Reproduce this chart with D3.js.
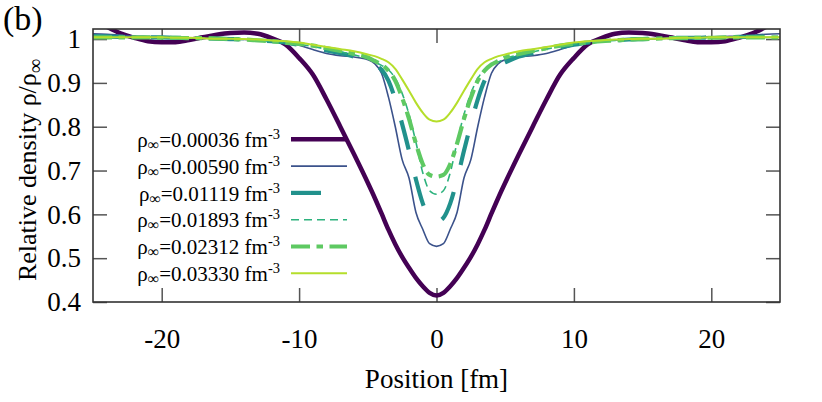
<!DOCTYPE html>
<html>
<head>
<meta charset="utf-8">
<script src="https://cdn.jsdelivr.net/npm/d3@7"></script>
<style>
  html, body { margin: 0; padding: 0; background: #fff; }
  svg { display: block; }
  svg text { font-family: "Liberation Serif", "Times New Roman", Times, Tinos, "DejaVu Serif", "Noto Serif", serif !important; }
</style>
</head>
<body>
<svg id="chart" width="822" height="402"></svg>
<script>
// ---------- data ----------
const positions = [-25,-24,-23,-22,-21,-20,-19,-18,-17,-16,-15,-14,-13,-12,-11,-10,-9,-8,-7,-6,-5,-4.5,-4,-3.5,-3,-2.5,-2,-1.5,-1,-0.5,0,0.5,1,1.5,2,2.5,3,3.5,4,4.5,5,6,7,8,9,10,11,12,13,14,15,16,17,18,19,20,21,22,23,24,25];

const rho00036 = [1.045,1.028,1.013,1.003,0.995,0.9925,0.993,0.998,1.004,1.010,1.014,1.015,1.012,1.002,0.988,0.957,0.919,0.862,0.800,0.737,0.672,0.638,0.602,0.565,0.532,0.503,0.478,0.455,0.436,0.421,0.415,0.421,0.436,0.455,0.478,0.503,0.532,0.565,0.602,0.638,0.672,0.737,0.800,0.862,0.919,0.957,0.988,1.002,1.012,1.015,1.014,1.010,1.004,0.998,0.993,0.9925,0.995,1.003,1.013,1.028,1.045];

const rho00590 = [1.012,1.011,1.009,1.007,1.006,1.005,1.004,1.003,1.002,1.001,1.000,0.999,0.998,0.996,0.993,0.986,0.976,0.967,0.962,0.959,0.953,0.944,0.922,0.868,0.800,0.725,0.683,0.605,0.566,0.533,0.527,0.533,0.566,0.605,0.683,0.725,0.800,0.868,0.922,0.944,0.953,0.959,0.962,0.967,0.976,0.986,0.993,0.996,0.998,0.999,1.000,1.001,1.002,1.003,1.004,1.005,1.006,1.007,1.009,1.011,1.012];

const rho01119 = [1.007,1.006,1.005,1.005,1.004,1.004,1.003,1.003,1.002,1.001,1.000,0.999,0.997,0.995,0.992,0.987,0.981,0.974,0.968,0.960,0.947,0.940,0.930,0.905,0.862,0.806,0.745,0.680,0.625,0.592,0.583,0.592,0.625,0.680,0.745,0.806,0.862,0.905,0.930,0.940,0.947,0.960,0.968,0.974,0.981,0.987,0.992,0.995,0.997,0.999,1.000,1.001,1.002,1.003,1.003,1.004,1.004,1.005,1.005,1.006,1.007];

const rho01893 = [1.004,1.004,1.004,1.004,1.004,1.003,1.003,1.002,1.002,1.001,1.000,0.999,0.997,0.995,0.992,0.988,0.983,0.977,0.971,0.964,0.955,0.948,0.940,0.930,0.910,0.876,0.828,0.765,0.695,0.654,0.646,0.654,0.695,0.765,0.828,0.876,0.910,0.930,0.940,0.948,0.955,0.964,0.971,0.977,0.983,0.988,0.992,0.995,0.997,0.999,1.000,1.001,1.002,1.002,1.003,1.003,1.004,1.004,1.004,1.004,1.004];

const rho02312 = [1.004,1.004,1.004,1.004,1.004,1.003,1.003,1.002,1.002,1.001,1.000,0.999,0.997,0.995,0.992,0.989,0.985,0.979,0.973,0.966,0.958,0.950,0.942,0.928,0.905,0.866,0.818,0.762,0.715,0.690,0.686,0.690,0.715,0.762,0.818,0.866,0.905,0.928,0.942,0.950,0.958,0.966,0.973,0.979,0.985,0.989,0.992,0.995,0.997,0.999,1.000,1.001,1.002,1.002,1.003,1.003,1.004,1.004,1.004,1.004,1.004];

const rho03330 = [1.004,1.004,1.004,1.004,1.004,1.004,1.003,1.003,1.002,1.001,1.001,1.000,0.999,0.997,0.995,0.992,0.987,0.982,0.977,0.972,0.965,0.961,0.955,0.947,0.932,0.908,0.882,0.855,0.832,0.816,0.812,0.816,0.832,0.855,0.882,0.908,0.932,0.947,0.955,0.961,0.965,0.972,0.977,0.982,0.987,0.992,0.995,0.997,0.999,1.000,1.001,1.001,1.002,1.003,1.003,1.004,1.004,1.004,1.004,1.004,1.004];

const seriesLabels = ["0.00036","0.00590","0.01119","0.01893","0.02312","0.03330"];
const xTicks = [-20,-10,0,10,20];
const yTicks = [0.4,0.5,0.6,0.7,0.8,0.9,1];

// ---------- styles ----------
const styles = [
  {color:"#440154", width:4.5, dash:null},
  {color:"#3b528b", width:1.6, dash:null},
  {color:"#21918c", width:4.2, dash:"30,28"},
  {color:"#2db27d", width:1.6, dash:"8,5"},
  {color:"#5ec962", width:4.2, dash:"19,6.5,6.5,6.5"},
  {color:"#b5de2b", width:2.0, dash:null}
];
const allSeries = [rho00036, rho00590, rho01119, rho01893, rho02312, rho03330];

const svg = d3.select("#chart");
const L = 93, R = 780, T = 29, B = 302;
const x = d3.scaleLinear().domain([-25,25]).range([L,R]);
const y = d3.scaleLinear().domain([0.4,1.023]).range([B,T]);

svg.append("defs").append("clipPath").attr("id","clip")
  .append("rect").attr("x",L).attr("y",T).attr("width",R-L).attr("height",B-T);

const tickColor = "#555";
function styleAxis(g){
  g.attr("font-family", null);
  g.select(".domain").remove();
  g.selectAll(".tick line").attr("stroke",tickColor).attr("stroke-width",1.5);
  g.selectAll(".tick text").attr("fill","#000").attr("font-size",27);
}
svg.append("g").attr("transform",`translate(0,${B})`)
  .call(d3.axisBottom(x).tickValues(xTicks).tickSize(-14).tickPadding(27).tickFormat(d=>String(d)))
  .call(styleAxis);
svg.append("g").attr("transform",`translate(0,${T})`)
  .call(d3.axisTop(x).tickValues(xTicks).tickSize(-14).tickFormat(""))
  .call(styleAxis);
svg.append("g").attr("transform",`translate(${L},0)`)
  .call(d3.axisLeft(y).tickValues(yTicks).tickSize(-14).tickPadding(12).tickFormat(d3.format("~g")))
  .call(styleAxis);
svg.append("g").attr("transform",`translate(${R},0)`)
  .call(d3.axisRight(y).tickValues(yTicks).tickSize(-14).tickFormat(""))
  .call(styleAxis);

const line = d3.line().x((d,i)=>x(positions[i])).y(d=>y(d)).curve(d3.curveMonotoneX);
const plot = svg.append("g").attr("clip-path","url(#clip)");
allSeries.forEach((s,k)=>{
  plot.append("path").datum(s)
    .attr("d",line)
    .attr("fill","none")
    .attr("stroke",styles[k].color)
    .attr("stroke-width",styles[k].width)
    .attr("stroke-dasharray",styles[k].dash)
    .attr("stroke-linejoin","round");
});

svg.append("rect").attr("x",L).attr("y",T).attr("width",R-L).attr("height",B-T)
  .attr("fill","none").attr("stroke","#333").attr("stroke-width",1.6);

const legY0 = 139.3, legDy = 26.8;
seriesLabels.forEach((lab,k)=>{
  const yy = legY0 + k*legDy;
  const t = svg.append("text").attr("x",280).attr("y",yy+7.6)
    .attr("text-anchor","end").attr("font-size",21).attr("fill","#000");
  t.append("tspan").text("ρ");
  t.append("tspan").attr("font-size",16).attr("dy",3).text("∞");
  t.append("tspan").attr("dy",-3).text("=" + lab + " fm");
  t.append("tspan").attr("font-size",14.5).attr("dy",-8).text("-3");
  svg.append("line").attr("x1",291).attr("x2",347).attr("y1",yy).attr("y2",yy)
    .attr("stroke",styles[k].color).attr("stroke-width",styles[k].width)
    .attr("stroke-dasharray",styles[k].dash);
});

svg.append("text").attr("x",(L+R)/2).attr("y",388).attr("text-anchor","middle")
  .attr("font-size",27).text("Position [fm]");
const yl = svg.append("text").attr("transform","translate(36,170) rotate(-90)")
  .attr("text-anchor","middle").attr("font-size",26);
yl.append("tspan").text("Relative density ρ/ρ");
yl.append("tspan").attr("font-size",20).attr("dy",6).text("∞");

svg.append("text").attr("x",3).attr("y",29.5).attr("font-size",34).text("(b)");
</script>
</body>
</html>
